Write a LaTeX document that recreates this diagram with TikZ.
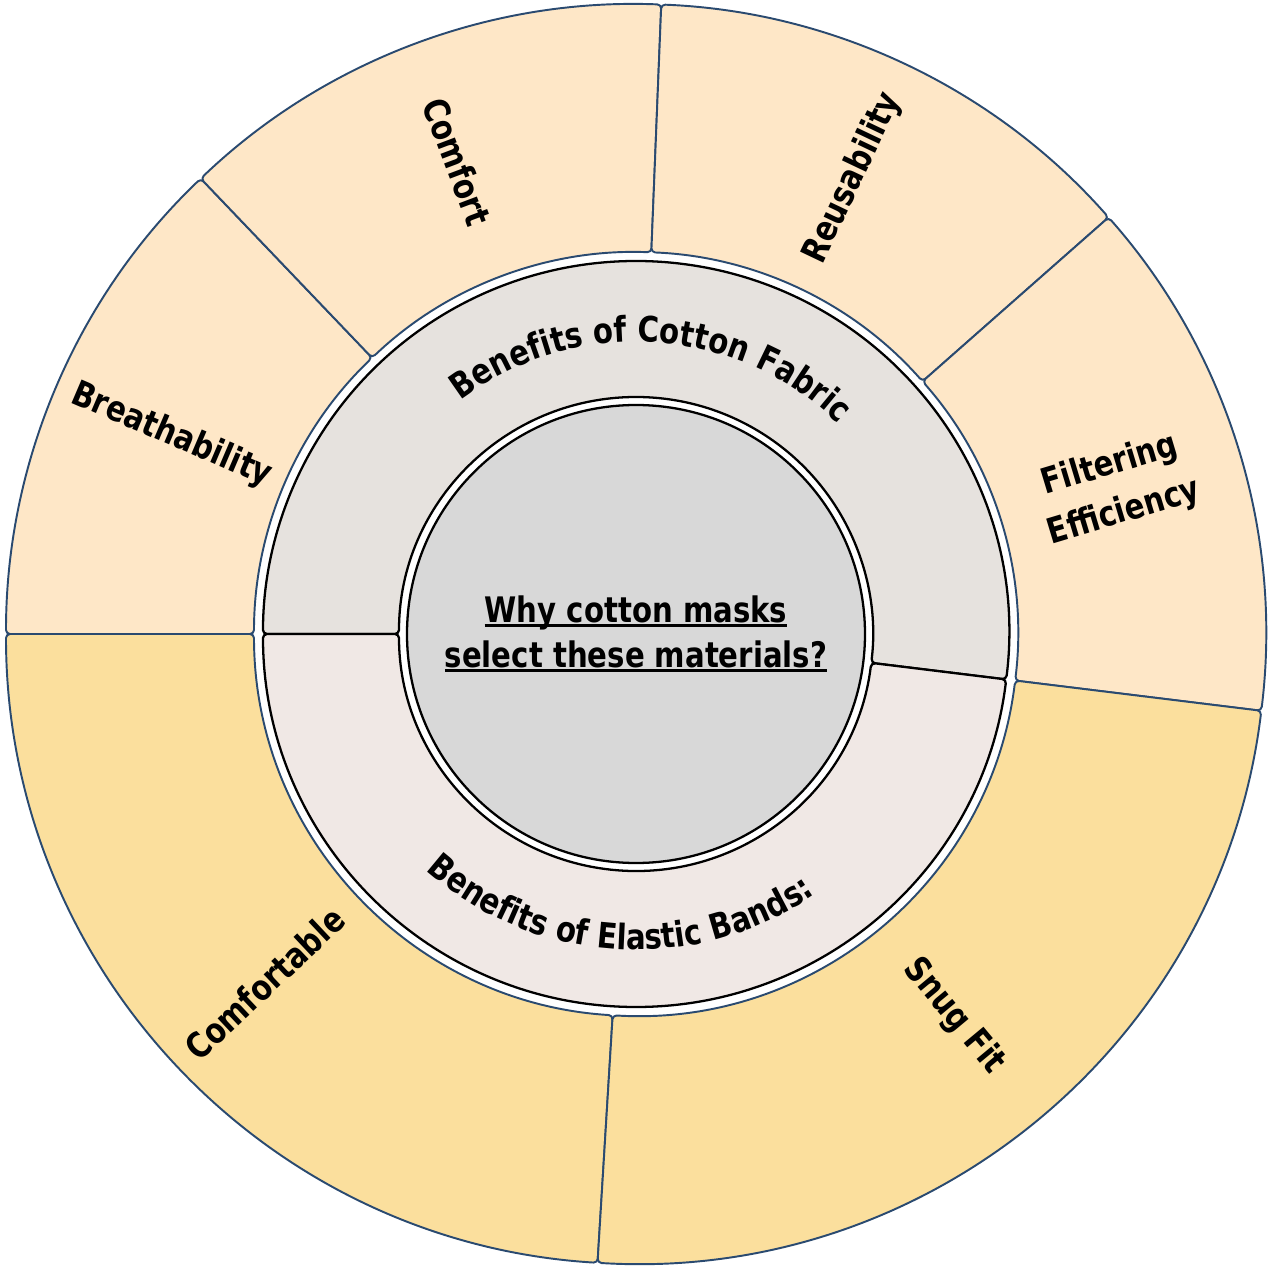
\documentclass[tikz,border=0pt]{standalone}
\usepackage{fontspec}
\setmainfont{DejaVu Sans}[FakeStretch=0.83]
\usetikzlibrary{decorations.text}
\definecolor{PeachFill}{RGB}{254,231,199}
\definecolor{GoldFill}{RGB}{251,223,157}
\definecolor{RingTop}{RGB}{230,226,222}
\definecolor{RingBottom}{RGB}{240,232,229}
\definecolor{CoreGray}{RGB}{216,216,216}
\definecolor{EdgeNavy}{RGB}{42,74,112}
\newcommand{\qline}[1]{\setbox0=\hbox{#1}\rlap{\rule[-2.8pt]{\wd0}{1.7pt}}\box0}
\newcommand{\ringfont}{\bfseries\fontsize{20}{25.6}\selectfont}

\begin{document}
\begin{tikzpicture}[
  outerseg/.style={draw=EdgeNavy,line width=1.1pt,rounded corners=0.08cm,line join=round},
  midseg/.style={draw=black,line width=1.3pt,rounded corners=0.08cm,line join=round},
  leaf/.style={font=\ringfont,align=center,inner sep=0pt},
  ringtext/.style={decorate,decoration={text along path,text align=center,text={|\ringfont|#1}}}
]
\useasboundingbox (-12.72,-12.78) rectangle (12.70,12.68);
% outer ring, cotton side
\draw[outerseg,fill=PeachFill] (180:7.64) arc[start angle=180,end angle=133.7,radius=7.64] -- (133.7:12.6) arc[start angle=133.7,end angle=180,radius=12.6] -- cycle;
\draw[outerseg,fill=PeachFill] (133.7:7.64) arc[start angle=133.7,end angle=87.7,radius=7.64] -- (87.7:12.6) arc[start angle=87.7,end angle=133.7,radius=12.6] -- cycle;
\draw[outerseg,fill=PeachFill] (87.7:7.64) arc[start angle=87.7,end angle=41.4,radius=7.64] -- (41.4:12.6) arc[start angle=41.4,end angle=87.7,radius=12.6] -- cycle;
\draw[outerseg,fill=PeachFill] (41.4:7.64) arc[start angle=41.4,end angle=-7,radius=7.64] -- (-7:12.6) arc[start angle=-7,end angle=41.4,radius=12.6] -- cycle;
% outer ring, elastic side
\draw[outerseg,fill=GoldFill] (266.5:7.64) arc[start angle=266.5,end angle=180,radius=7.64] -- (180:12.6) arc[start angle=180,end angle=266.5,radius=12.6] -- cycle;
\draw[outerseg,fill=GoldFill] (353:7.64) arc[start angle=353,end angle=266.5,radius=7.64] -- (266.5:12.6) arc[start angle=266.5,end angle=353,radius=12.6] -- cycle;
% middle ring
\draw[midseg,fill=RingTop] (180:4.74) arc[start angle=180,end angle=-7,radius=4.74] -- (-7:7.46) arc[start angle=-7,end angle=180,radius=7.46] -- cycle;
\draw[midseg,fill=RingBottom] (353:4.74) arc[start angle=353,end angle=180,radius=4.74] -- (180:7.46) arc[start angle=180,end angle=353,radius=7.46] -- cycle;
\path[ringtext={Benefits of Cotton Fabric}] (170:5.84) arc[start angle=170,end angle=3,radius=5.84];
\path[ringtext={Benefits of Elastic Bands:}] (180.5:6.32) arc[start angle=180.5,end angle=352.5,radius=6.32];
% centre
\node[circle,draw=black,line width=1.3pt,fill=CoreGray,minimum size=9.16cm,inner sep=0pt,font=\ringfont,align=center] (core) at (0,0)
  {\qline{Why cotton masks}\\\qline{select these materials?}};
% leaf labels
\node[leaf,rotate=-23.15] (breath) at (156.85:10.1) {Breathability};
\node[leaf,rotate=-69.3] (comfort) at (110.7:10.1) {Comfort};
\node[leaf,rotate=64.55] (reuse) at (64.55:10.1) {Reusability};
\node[leaf,rotate=16.8,font=\bfseries\fontsize{20}{28}\selectfont] (filter) at (16.8:10.05) {Filtering\\Efficiency};
\node[leaf,rotate=43.25] (comfy) at (223.25:10.2) {Comfortable};
\node[leaf,rotate=-50.25] (snug) at (309.75:9.95) {Snug Fit};
\end{tikzpicture}
\end{document}
